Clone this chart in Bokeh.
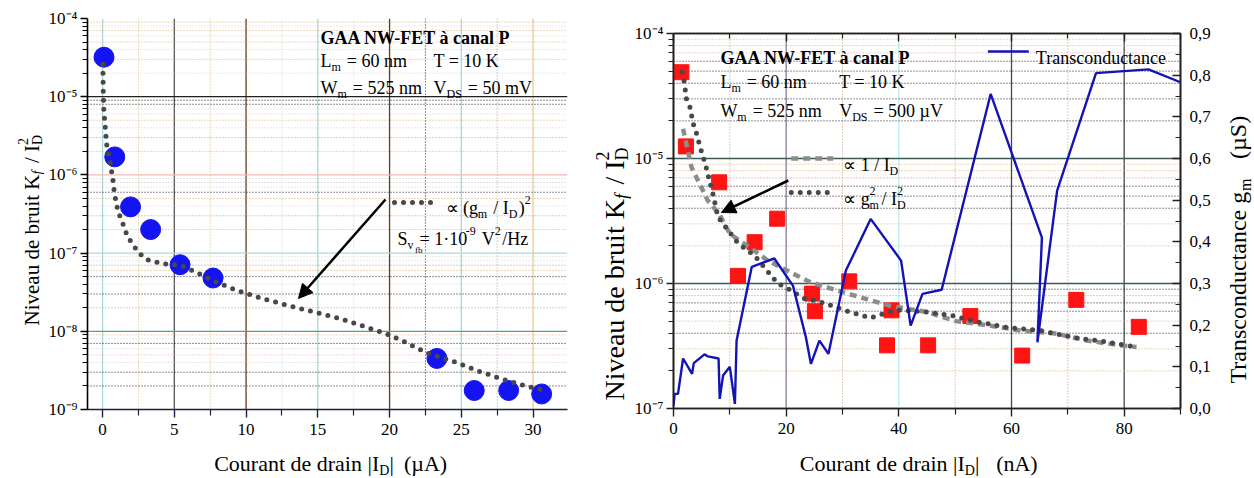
import math
from bokeh.plotting import figure
from bokeh.models import (Range1d, LinearAxis, LinearScale, FixedTicker, Span, Label, Arrow,
                          NormalHead, CustomJSTickFormatter)
from bokeh.layouts import row, column
from bokeh.embed import file_html
from bokeh.resources import INLINE

FONT = "Liberation Serif"

# ---------------- data ----------------
# Left panel: drain current (µA) and noise level Kf/ID^2
left_current = [0.1, 0.85, 1.95, 3.35, 5.4, 7.7, 23.3, 25.9, 28.3, 30.6]
left_noise = [3.2e-5, 1.7e-6, 3.9e-7, 2.0e-7, 7.1e-8, 4.8e-8, 4.5e-9, 1.75e-9, 1.75e-9, 1.58e-9]
# Left panel fit  ∝ (gm/ID)^2
left_fit_current = [0.02, 0.05, 0.09, 0.19, 0.28, 0.51, 0.70, 0.84, 1.07, 1.53, 1.72, 2.46, 3.04,
                    4.23, 5.43, 6.6, 7.71, 9.43, 11.2, 12.9, 14.7, 16.4, 18.2, 19.9, 21.0, 22.7,
                    24.5, 26.2, 28.0, 29.7, 30.8]
left_fit_noise = [2.6e-5, 1.08e-5, 6.6e-6, 4.0e-6, 2.47e-6, 1.5e-6, 9.3e-7, 5.6e-7, 3.46e-7, 2.1e-7,
                  1.65e-7, 1.04e-7, 8.3e-8, 7.3e-8, 7.0e-8, 5.6e-8, 4.4e-8, 3.3e-8, 2.6e-8, 2.15e-8,
                  1.77e-8, 1.48e-8, 1.16e-8, 9.1e-9, 7.4e-9, 5.2e-9, 4.1e-9, 3.1e-9, 2.4e-9, 1.95e-9,
                  1.77e-9]

# Right panel: drain current (nA) and noise level
right_current = [1.4, 2.2, 8.1, 18.4, 14.4, 11.45, 24.6, 25.1, 31.2, 38.7, 37.9, 45.2, 52.7, 61.9, 71.5, 82.6]
right_noise = [4.9e-5, 1.25e-5, 6.45e-6, 3.3e-6, 2.14e-6, 1.15e-6, 8.3e-7, 6.0e-7, 1.04e-6, 6.1e-7,
               3.2e-7, 3.2e-7, 5.5e-7, 2.65e-7, 7.4e-7, 4.5e-7]
# fit ∝ 1/ID
inv_fit_current = [1.7, 3.2, 6.1, 8.1, 10.0, 13.8, 16.8, 21.2, 24.4, 30.9, 38.6, 45.1, 50.1, 56.3,
                   61.6, 67.5, 73.4, 79.3, 82.2]
inv_fit_noise = [1.73e-5, 8.5e-6, 4.6e-6, 3.6e-6, 2.5e-6, 1.9e-6, 1.52e-6, 1.2e-6, 1.02e-6, 8.3e-7,
                 6.6e-7, 5.9e-7, 5.0e-7, 4.6e-7, 4.2e-7, 4.0e-7, 3.5e-7, 3.2e-7, 3.1e-7]
# fit ∝ gm^2/ID^2
gm_fit_current = [1.53, 1.9, 2.3, 2.9, 3.5, 4.1, 4.8, 5.3, 5.8, 6.4, 7.0, 7.4, 7.9, 11.45, 14.4, 18.5,
                  20.3, 23.2, 26.2, 30.9, 35.0, 39.2, 41.0, 45.1, 49.8, 53.3, 59.2, 65.1, 71.0, 77.0, 82.2]
gm_fit_noise = [4.9e-5, 4.1e-5, 3.0e-5, 2.6e-5, 1.9e-5, 1.58e-5, 1.2e-5, 1.02e-5, 8.5e-6, 6.6e-6,
                5.2e-6, 4.3e-6, 3.4e-6, 2.1e-6, 1.67e-6, 1.0e-6, 9.1e-7, 7.6e-7, 7.1e-7, 6.0e-7,
                5.3e-7, 6.1e-7, 6.1e-7, 5.9e-7, 5.5e-7, 5.0e-7, 4.45e-7, 4.2e-7, 3.7e-7, 3.4e-7, 3.1e-7]
# Transconductance gm (µS) on right axis
gm_current = [0.0, 0.2, 0.8, 1.7, 3.3, 3.6, 5.5, 6.1, 8.0, 8.2, 8.8, 10.0, 10.9, 11.2, 13.9, 17.9,
              21.2, 23.5, 24.4, 25.9, 27.5, 30.6, 35.0, 40.4, 42.1, 44.2, 47.6, 56.3, 65.4, 64.6,
              68.1, 75.0, 84.3, 90.0]
gm_values = [0.007, 0.035, 0.035, 0.12, 0.083, 0.109, 0.13, 0.125, 0.12, 0.023, 0.079, 0.10, 0.011,
             0.163, 0.34, 0.36, 0.295, 0.171, 0.107, 0.163, 0.131, 0.331, 0.455, 0.355, 0.199,
             0.275, 0.285, 0.755, 0.41, 0.159, 0.523, 0.805, 0.814, 0.783]

left_xticks = [0, 5, 10, 15, 20, 25, 30]
left_xminor = [2.5, 7.5, 12.5, 17.5, 22.5, 27.5]
right_xticks = [0, 20, 40, 60, 80]
right_xminor = [10, 30, 50, 70, 90]
gm_ticks = [0.0, 0.1, 0.2, 0.3, 0.4, 0.5, 0.6, 0.7, 0.8, 0.9]
gm_minor = [0.05, 0.15, 0.25, 0.35, 0.45, 0.55, 0.65, 0.75, 0.85]


def decade_ticks(e0, e1):
    major = [10.0 ** e for e in range(e0, e1 + 1)]
    minor = [k * 10.0 ** e for e in range(e0, e1) for k in range(2, 10)]
    return major, minor


# ---------------- text helpers ----------------
W_REG = {' ': 250, '(': 333, ')': 333, '/': 278, '-': 333, '=': 564, '·': 250, ',': 250,
         'A': 722, 'C': 667, 'D': 722, 'E': 611, 'F': 556, 'G': 722, 'H': 722, 'I': 333, 'K': 722,
         'L': 611, 'N': 722, 'P': 556, 'S': 556, 'T': 611, 'V': 722, 'W': 944,
         'a': 444, 'b': 500, 'c': 444, 'd': 500, 'e': 444, 'f': 333, 'g': 500, 'i': 278, 'l': 278,
         'm': 778, 'n': 500, 'o': 500, 'r': 333, 's': 389, 't': 278, 'u': 500, 'v': 500, 'z': 444,
         '|': 200, 'µ': 500, 'à': 444, '∝': 713}
W_BOLD = {' ': 250, '-': 333, 'A': 722, 'E': 667, 'F': 611, 'G': 778, 'N': 722, 'P': 611, 'T': 667,
          'W': 1000, 'a': 500, 'c': 444, 'l': 278, 'n': 556, 'à': 500}


def tw(s, size, bold=False):
    tab = W_BOLD if bold else W_REG
    return sum(tab.get(c, 500) for c in s) * size / 1000.0


class Conv:
    """page pixel -> data coordinates of a plot frame"""
    def __init__(self, fl, fr, ft, fb, xr, yr, ylog):
        self.fl, self.fr, self.ft, self.fb = fl, fr, ft, fb
        self.xr, self.yr, self.ylog = xr, yr, ylog

    def x(self, px):
        return self.xr[0] + (px - self.fl) / (self.fr - self.fl) * (self.xr[1] - self.xr[0])

    def y(self, py):
        f = (self.fb - py) / (self.fb - self.ft)
        if self.ylog:
            a, b = math.log10(self.yr[0]), math.log10(self.yr[1])
            return 10 ** (a + f * (b - a))
        return self.yr[0] + f * (self.yr[1] - self.yr[0])


class Offset:
    """page pixel -> data coordinates of a text strip (y grows downward)"""
    def __init__(self, left, top):
        self.left, self.top = left, top

    def x(self, px):
        return px - self.left

    def y(self, py):
        return py - self.top


def rich(p, cv, px, py, pieces, size, bold=False, angle=0.0, end_anchor=False, subf=0.38):
    """pieces of text with sub/superscripts; SVG drops leading spaces, so they are advanced here"""
    pos = 0.0
    for i, piece in enumerate(pieces):
        txt, kind = piece[0], piece[1]
        adv = piece[2] if len(piece) > 2 else True
        style = "bold" if bold else "normal"
        if kind == "n":
            fs, off = size, 0.0
        elif kind in ("sub", "subi"):
            fs, off = round(size * 0.65), size * subf
            if kind == "subi":
                style = "italic"
        elif kind == "sup":
            fs, off = round(size * 0.65), -size * 0.42
        else:  # subsub
            fs, off = round(size * 0.5), size * 0.62
        isbold = bold and kind == "n"
        core = txt.strip(' ')
        lead = len(txt) - len(txt.lstrip(' '))
        trail = len(txt) - len(txt.rstrip(' '))
        spw = tw(' ', fs, isbold)
        align = "left"
        if i == 0 and end_anchor:
            align = "right"
        else:
            pos += lead * spw
        if angle == 0.0:
            ax, ay = px + pos, py + off
        else:
            ax, ay = px + off, py - pos
        p.add_layout(Label(x=cv.x(ax), y=cv.y(ay), text=core, text_font=FONT,
                           text_font_size=f"{fs}px", text_font_style=style,
                           text_align=align, text_baseline="alphabetic",
                           angle=angle, text_color="black"))
        if adv:
            if align == "right":
                pos += trail * spw
            else:
                pos += tw(core, fs, isbold) + trail * spw + (1.5 if kind != "n" else 0.0)


def add_spans(p, specs, dimension):
    for loc, color, dash in specs:
        p.add_layout(Span(location=loc, dimension=dimension, line_color=color,
                          line_dash=dash, line_width=1.3 if dash == "solid" else 1.0,
                          level="underlay"))


def strip(w, h):
    f = figure(width=w, height=h, x_range=Range1d(0, w), y_range=Range1d(h, 0),
               output_backend="svg", toolbar_location=None, min_border=0,
               x_axis_location=None, y_axis_location=None)
    f.outline_line_color = None
    f.xgrid.visible = False
    f.ygrid.visible = False
    return f


log_fmt = CustomJSTickFormatter(code="""
const e = Math.round(Math.log10(tick));
const m = {"-":"\u207b","0":"\u2070","1":"\u00b9","2":"\u00b2","3":"\u00b3","4":"\u2074",
           "5":"\u2075","6":"\u2076","7":"\u2077","8":"\u2078","9":"\u2079"};
return "10" + String(e).split("").map(c => m[c]).join("");
""")
gm_fmt = CustomJSTickFormatter(code="return tick.toFixed(1).replace('.', ',');")
blank_fmt = CustomJSTickFormatter(code="return '';")

BLK, ORG, LG, GR = "#202020", "#dcb078", "#d4d4d4", "#a0a0a0"
D = "1 2"
DOTS = "0 9"
H_PLOT, H_XLAB = 443, 35
W_Y1, W_P1, W_Y2, W_P2, W_Y3 = 44, 543, 44, 583, 39
X_P2 = W_Y1 + W_P1 + W_Y2          # 631
X_Y3 = X_P2 + W_P2                 # 1214

# ================= LEFT FIGURE =================
X1 = (-1.05, 32.4)
p1 = figure(width=W_P1, height=H_PLOT, x_range=Range1d(*X1), y_range=Range1d(1e-9, 1e-4),
            y_axis_type="log", output_backend="svg", toolbar_location=None,
            min_border_left=87 - W_Y1, min_border_right=W_P1 - (87 - W_Y1) - 480,
            min_border_top=18, min_border_bottom=H_PLOT - 18 - 391)
p1.outline_line_color = None
p1.xgrid.visible = False
p1.ygrid.visible = False
cv1 = Conv(87, 567, 18, 409, X1, (1e-9, 1e-4), True)

add_spans(p1, [(0, "#a8d8d8", "solid"), (2.5, ORG, D), (5, "#555555", "solid"), (7.5, ORG, D),
               (10, "#6a3a10", "solid"), (12.5, "#c8d8c0", D), (15, "#a8d8d8", "solid"),
               (17.5, LG, D), (20, "#6a3a10", "solid"), (22.5, BLK, D), (25, "#a8d8d8", "solid"),
               (27.5, GR, D), (30, "#f0c890", "solid")], "height")
add_spans(p1, [(1e-5, BLK, "solid"), (1e-6, "#f4b8b8", "solid"), (1e-7, "#a8dcdc", "solid"),
               (1e-8, "#5a9c9c", "solid"),
               (9e-5, ORG, D), (8e-5, LG, D), (7e-5, ORG, D), (6e-5, LG, D), (5e-5, ORG, D),
               (4e-5, LG, D), (3e-5, ORG, D), (2e-5, LG, D),
               (9e-6, BLK, D), (8e-6, BLK, D), (7e-6, LG, D), (6e-6, LG, D), (5e-6, ORG, D),
               (4e-6, LG, D), (3e-6, GR, D), (2e-6, ORG, D),
               (9e-7, LG, D), (8e-7, "#c0c0c0", D), (7e-7, LG, D), (6e-7, BLK, D), (5e-7, ORG, D),
               (4e-7, LG, D), (3e-7, GR, D), (2e-7, ORG, D),
               (9e-8, LG, D), (8e-8, LG, D), (7e-8, GR, D), (6e-8, ORG, D), (5e-8, BLK, D),
               (4e-8, LG, D), (3e-8, BLK, D), (2e-8, "#c0a080", D),
               (9e-9, ORG, D), (8e-9, LG, D), (7e-9, BLK, D), (6e-9, LG, D), (5e-9, "#f0b0b0", D),
               (4e-9, "#c8c8c8", D), (3e-9, BLK, D), (2e-9, BLK, D)], "width")

p1.scatter(left_current, left_noise, marker="circle", size=20, fill_color="#1414f0",
           line_color="#1414f0")
p1.line(left_fit_current, left_fit_noise, line_color="#484848", line_width=5,
        line_dash=DOTS, line_cap="round")

xa = p1.xaxis[0]
xa.ticker = FixedTicker(ticks=left_xticks, minor_ticks=left_xminor)
ya = p1.yaxis[0]
mj, mn = decade_ticks(-9, -4)
ya.ticker = FixedTicker(ticks=mj, minor_ticks=mn)
ya.formatter = log_fmt
for ax, col in ((xa, "#1c1c48"), (ya, "#000000")):
    ax.axis_line_color = col
    ax.axis_line_width = 1.6
    ax.major_tick_line_color = col
    ax.minor_tick_line_color = col
    ax.major_tick_line_width = 1.4
    ax.minor_tick_line_width = 1.2
    ax.major_tick_in = 0
    ax.minor_tick_in = 0
    ax.major_label_text_font = FONT
    ax.major_label_text_font_size = "17px"
    ax.major_label_text_color = "black"
xa.major_tick_out = 8
xa.minor_tick_out = 6
xa.major_label_standoff = 6
ya.major_tick_out = 7
ya.minor_tick_out = 5
ya.major_label_standoff = 3

rich(p1, cv1, 320, 37, [("GAA NW-FET à canal P", "n")], 18, bold=True)
rich(p1, cv1, 320, 60, [("L", "n"), ("m", "sub"), (" = 60 nm", "n")], 18)
rich(p1, cv1, 433, 60, [("T = 10 K", "n")], 18)
rich(p1, cv1, 320, 87, [("W", "n"), ("m", "sub"), (" = 525 nm", "n")], 18)
rich(p1, cv1, 433, 87, [("V", "n"), ("DS", "sub"), (" = 50 mV", "n")], 18)
p1.line([cv1.x(394), cv1.x(434)], [cv1.y(202), cv1.y(202)], line_color="#484848", line_width=5,
        line_dash=DOTS, line_cap="round")
rich(p1, cv1, 445, 207, [("∝ (g", "n"), ("m", "sub"), (" / I", "n"), ("D", "sub"), (")", "n"),
                         ("2", "sup")], 18)
rich(p1, cv1, 397, 238, [("S", "n"), ("v", "sub"), ("fb", "subsub", False), (" = 1·10", "n"),
                         ("-9", "sup"), (" V", "n"), ("2", "sup"), ("/Hz", "n")], 18)
p1.add_layout(Arrow(end=NormalHead(size=14, fill_color="black", line_color="black"),
                    x_start=cv1.x(385), y_start=cv1.y(199), x_end=cv1.x(298), y_end=cv1.y(298),
                    line_width=2.5, line_color="black"))

# ================= RIGHT FIGURE =================
X2 = (0, 90)
p2 = figure(width=W_P2, height=H_PLOT, x_range=Range1d(*X2), y_range=Range1d(1e-7, 1e-4),
            y_axis_type="log", output_backend="svg", toolbar_location=None,
            min_border_left=672 - X_P2, min_border_right=W_P2 - (672 - X_P2) - 508,
            min_border_top=33, min_border_bottom=H_PLOT - 33 - 375)
p2.outline_line_color = "#202020"
p2.outline_line_width = 1.6
p2.xgrid.visible = False
p2.ygrid.visible = False
p2.extra_y_ranges = {"gm": Range1d(0, 0.9)}
p2.extra_y_scales = {"gm": LinearScale()}
cv2 = Conv(672, 1180, 33, 408, X2, (1e-7, 1e-4), True)

add_spans(p2, [(10, "#c0a070", D), (20, "#8a7a9a", "solid"), (30, "#c0a070", D),
               (40, "#b8f0f0", "solid"), (50, "#c0a070", D), (60, "#404848", "solid"),
               (70, "#c0a070", D), (80, "#404848", "solid")], "height")
add_spans(p2, [(1e-5, "#3c5a5a", "solid"), (1e-6, "#3c5a5a", "solid"),
               (9e-5, ORG, D), (8e-5, ORG, D), (7e-5, "#f0a0a0", D), (6e-5, BLK, D),
               (5e-5, BLK, D), (4e-5, BLK, D), (3e-5, BLK, D), (2e-5, BLK, D),
               (9e-6, ORG, D), (8e-6, ORG, D), (7e-6, "#f08080", D), (6e-6, BLK, D),
               (5e-6, BLK, D), (4e-6, BLK, D), (3e-6, ORG, D), (2e-6, ORG, D),
               (9e-7, BLK, D), (8e-7, GR, D), (7e-7, BLK, D), (6e-7, BLK, D), (5e-7, ORG, D),
               (4e-7, BLK, D), (3e-7, ORG, D), (2e-7, ORG, D)], "width")

p2.scatter(right_current, right_noise, marker="square", size=15, fill_color="#ff1414",
           line_color="#ff1414")
p2.line(inv_fit_current, inv_fit_noise, line_color="#8c8c8c", line_width=4.5, line_dash="7 5")
p2.line(gm_fit_current, gm_fit_noise, line_color="#484848", line_width=5, line_dash=DOTS,
        line_cap="round")
p2.line(gm_current, gm_values, y_range_name="gm", line_color="#1414b4", line_width=2.4)

xb = p2.xaxis[0]
xb.ticker = FixedTicker(ticks=right_xticks, minor_ticks=right_xminor)
yb = p2.yaxis[0]
mj2, mn2 = decade_ticks(-7, -4)
yb.ticker = FixedTicker(ticks=mj2, minor_ticks=mn2)
yb.formatter = log_fmt
top = LinearAxis(ticker=FixedTicker(ticks=right_xticks, minor_ticks=right_xminor),
                 formatter=blank_fmt)
p2.add_layout(top, "above")
gax = LinearAxis(y_range_name="gm", ticker=FixedTicker(ticks=gm_ticks, minor_ticks=gm_minor),
                 formatter=gm_fmt)
p2.add_layout(gax, "right")
for ax in (xb, yb, top, gax):
    ax.axis_line_color = "#202020"
    ax.axis_line_width = 1.6
    ax.major_tick_line_color = "#202020"
    ax.minor_tick_line_color = "#202020"
    ax.major_tick_line_width = 1.4
    ax.minor_tick_line_width = 1.2
    ax.major_label_text_font = FONT
    ax.major_label_text_font_size = "17px"
    ax.major_label_text_color = "black"
for ax in (xb, yb):
    ax.major_tick_in = 0
    ax.minor_tick_in = 0
xb.major_tick_out = 8
xb.minor_tick_out = 6
xb.major_label_standoff = 6
yb.major_tick_out = 7
yb.minor_tick_out = 5
yb.major_label_standoff = 3
top.major_tick_out = 0
top.minor_tick_out = 0
top.major_tick_in = 8
top.minor_tick_in = 5
top.major_label_standoff = 0
gax.major_tick_out = 0
gax.minor_tick_out = 0
gax.major_tick_in = 8
gax.minor_tick_in = 5
gax.major_label_standoff = 9

# legend of the transconductance curve
p2.line([cv2.x(987), cv2.x(1028)], [cv2.y(51), cv2.y(51)], line_color="#1414b4", line_width=2.5)
rich(p2, cv2, 1035, 57, [("Transconductance", "n")], 18)

rich(p2, cv2, 719, 57, [("GAA NW-FET à canal P", "n")], 18, bold=True)
rich(p2, cv2, 719, 81, [("L", "n"), ("m", "sub"), (" = 60 nm", "n")], 18)
rich(p2, cv2, 838, 81, [("T = 10 K", "n")], 18)
rich(p2, cv2, 719, 110, [("W", "n"), ("m", "sub"), (" = 525 nm", "n")], 18)
rich(p2, cv2, 838, 110, [("V", "n"), ("DS", "sub"), (" = 500 µV", "n")], 18)
p2.line([cv2.x(790), cv2.x(832)], [cv2.y(158), cv2.y(158)], line_color="#8c8c8c",
        line_width=4.5, line_dash="7 5")
rich(p2, cv2, 842, 164, [("∝ 1 / I", "n"), ("D", "sub")], 18)
p2.line([cv2.x(790), cv2.x(832)], [cv2.y(192), cv2.y(192)], line_color="#484848", line_width=5,
        line_dash=DOTS, line_cap="round")
rich(p2, cv2, 842, 198, [("∝ g", "n"), ("m", "sub", False), ("2", "sup"), (" / I", "n"),
                         ("D", "sub", False), ("2", "sup")], 18)
p2.add_layout(Arrow(end=NormalHead(size=14, fill_color="black", line_color="black"),
                    x_start=cv2.x(787), y_start=cv2.y(180), x_end=cv2.x(720), y_end=cv2.y(212),
                    line_width=2.5, line_color="black"))

# ================= axis-title strips =================
ylab1 = strip(W_Y1, 478)
rich(ylab1, Offset(0, 0), 31, 325, [("Niveau de bruit K", "n"), ("f", "subi"), (" / I", "n"),
                                    ("D", "sub", False), ("2", "sup")], 21,
     angle=math.pi / 2, subf=0.3)
xlab1 = strip(W_P1, H_XLAB)
o1 = Offset(W_Y1, H_PLOT)
rich(xlab1, o1, 374, 463, [("Courant de drain |I", "n"), ("D", "sub"), ("|", "n")], 22,
     end_anchor=True, subf=0.32)
rich(xlab1, o1, 402, 463, [("(µA)", "n")], 22)

ylab2 = strip(W_Y2, 478)
rich(ylab2, Offset(W_Y1 + W_P1, 0), 614, 400, [("Niveau de bruit K", "n"), ("f", "subi"),
                                               (" / I", "n"), ("D", "sub", False), ("2", "sup")],
     28, angle=math.pi / 2, subf=0.27)
xlab2 = strip(W_P2, H_XLAB)
o2 = Offset(X_P2, H_PLOT)
rich(xlab2, o2, 966, 463, [("Courant de drain |I", "n"), ("D", "sub"), ("|", "n")], 22,
     end_anchor=True, subf=0.32)
rich(xlab2, o2, 1002, 463, [("(nA)", "n")], 22)

ylab3 = strip(W_Y3, 478)
rich(ylab3, Offset(X_Y3, 0), 1237, 383, [("Transconductance g", "n"), ("m", "sub"),
                                         ("   (µS)", "n")], 24, angle=math.pi / 2, subf=0.33)

layout = row(ylab1, column(p1, xlab1), ylab2, column(p2, xlab2), ylab3)
open("out.html", "w").write(file_html(layout, INLINE))
